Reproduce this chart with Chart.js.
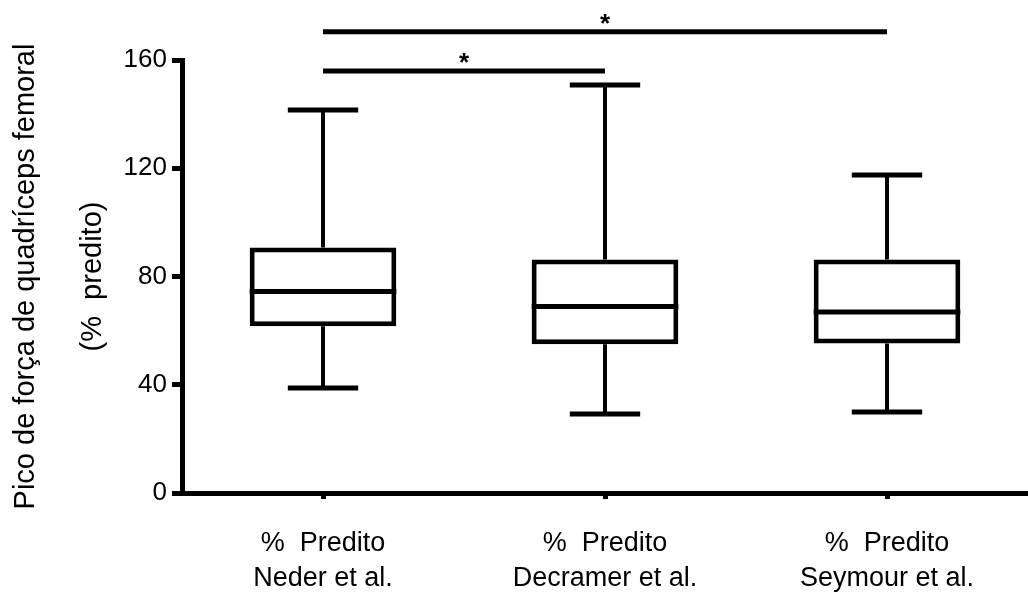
<!DOCTYPE html>
<html>
<head>
<meta charset="utf-8">
<script src="https://cdn.jsdelivr.net/npm/chart.js@4"></script>
<style>
  body { margin: 0; background: #fff; }
  #wrap { width: 1028px; height: 599px; }
</style>
</head>
<body>
<div id="wrap"><canvas id="box-chart" width="1028" height="599"></canvas></div>
<script>
// values
const categories = [['%  Predito', 'Neder et al.'], ['%  Predito', 'Decramer et al.'], ['%  Predito', 'Seymour et al.']];
const whiskerMin = [38.8, 29.2, 29.9];
const q1 = [61.6, 55.0, 55.2];
const median = [74.5, 68.9, 66.9];
const q3 = [90.7, 86.3, 86.3];
const whiskerMax = [141.5, 150.8, 117.5];

// significance bars: from category, to category, height on y scale
const sigFrom = [0, 0];
const sigTo = [1, 2];
const sigLevel = [155.9, 170.4];
const sigText = ['*', '*'];

const yTicks = [0, 40, 80, 120, 160];
const FONT = "'Liberation Sans', Arial, sans-serif";

// draws medians, whiskers and the significance bars on top of the boxes
const boxExtras = {
    id: 'boxExtras',
    afterDatasetsDraw(chart) {
        const ctx = chart.ctx;
        const x = chart.scales.x;
        const y = chart.scales.y;
        const meta = chart.getDatasetMeta(0);
        ctx.save();
        ctx.strokeStyle = '#000';
        ctx.lineCap = 'butt';
        meta.data.forEach((bar, i) => {
            const half = bar.width / 2;
            const capHalf = bar.width * 0.24;
            const cx = bar.x;

            // median
            ctx.lineWidth = 5;
            ctx.beginPath();
            ctx.moveTo(cx - half, y.getPixelForValue(median[i]));
            ctx.lineTo(cx + half, y.getPixelForValue(median[i]));
            ctx.stroke();

            // whisker stems
            ctx.lineWidth = 4;
            ctx.beginPath();
            ctx.moveTo(cx, y.getPixelForValue(q3[i]));
            ctx.lineTo(cx, y.getPixelForValue(whiskerMax[i]));
            ctx.moveTo(cx, y.getPixelForValue(q1[i]));
            ctx.lineTo(cx, y.getPixelForValue(whiskerMin[i]));
            ctx.stroke();

            // caps
            ctx.lineWidth = 5;
            ctx.beginPath();
            ctx.moveTo(cx - capHalf, y.getPixelForValue(whiskerMax[i]));
            ctx.lineTo(cx + capHalf, y.getPixelForValue(whiskerMax[i]));
            ctx.moveTo(cx - capHalf, y.getPixelForValue(whiskerMin[i]));
            ctx.lineTo(cx + capHalf, y.getPixelForValue(whiskerMin[i]));
            ctx.stroke();
        });

        ctx.fillStyle = '#000';
        ctx.font = 'bold 26px ' + FONT;
        ctx.textAlign = 'center';
        ctx.textBaseline = 'alphabetic';
        sigLevel.forEach((lvl, k) => {
            const x1 = x.getPixelForValue(sigFrom[k]);
            const x2 = x.getPixelForValue(sigTo[k]);
            const py = y.getPixelForValue(lvl);
            ctx.lineWidth = 5;
            ctx.beginPath();
            ctx.moveTo(x1, py);
            ctx.lineTo(x2, py);
            ctx.stroke();
            ctx.fillText(sigText[k], (x1 + x2) / 2, py);
        });
        ctx.restore();
    }
};

new Chart(document.getElementById('box-chart'), {
    type: 'bar',
    data: {
        labels: categories,
        datasets: [{
            data: q1.map((lo, i) => [lo, q3[i]]),
            backgroundColor: '#fff',
            borderColor: '#000',
            borderWidth: 5,
            borderSkipped: false,
            barPercentage: 0.52,
            categoryPercentage: 1
        }]
    },
    options: {
        responsive: false,
        animation: false,
        layout: { padding: { top: 60, right: -4.5, left: 0, bottom: 0 } },
        plugins: {
            legend: { display: false },
            tooltip: { enabled: false }
        },
        scales: {
            x: {
                ticks: {
                    color: '#000',
                    font: { family: FONT, size: 27, lineHeight: 1.3 },
                    padding: 27,
                    maxRotation: 0,
                    autoSkip: false
                },
                grid: {
                    display: true,
                    drawOnChartArea: false,
                    offset: false,
                    tickLength: 6,
                    tickWidth: 5,
                    tickColor: '#000'
                },
                border: { display: true, color: '#000', width: 5 },
                afterFit(scale) { scale.height = 106; }
            },
            y: {
                min: 0,
                max: 160,
                afterBuildTicks(scale) { scale.ticks = yTicks.map(v => ({ value: v })); },
                ticks: {
                    color: '#000',
                    font: { family: FONT, size: 26 },
                    padding: 5
                },
                grid: {
                    display: true,
                    drawOnChartArea: false,
                    tickLength: 10,
                    tickWidth: 5,
                    tickColor: '#000'
                },
                border: { display: true, color: '#000', width: 5 },
                title: {
                    display: true,
                    text: ['Pico de força de quadríceps femoral', '(%  predito)'],
                    color: '#000',
                    font: { family: FONT, size: 29, lineHeight: 2.3 },
                    padding: { top: -7, bottom: 0 }
                },
                afterFit(scale) { scale.width = 182; }
            }
        }
    },
    plugins: [boxExtras]
});
</script>
</body>
</html>
